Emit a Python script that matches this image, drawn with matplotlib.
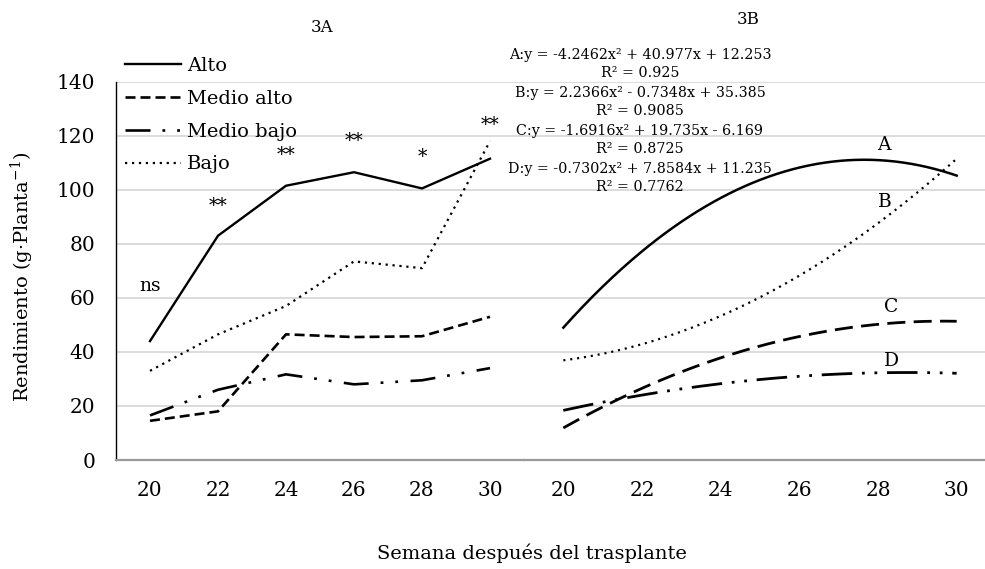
import numpy as np
import matplotlib
matplotlib.use("Agg")
import matplotlib.pyplot as plt

plt.rcParams['font.family'] = ['DejaVu Serif']
plt.rcParams['mathtext.fontset'] = 'dejavuserif'
plt.rcParams['lines.scale_dashes'] = False

# datos del panel 3A (rendimiento por nivel)
semanas = ['20', '22', '24', '26', '28', '30']
alto = [44, 83, 101.5, 106.5, 100.5, 111.5]
medio_alto = [14.5, 18, 46.5, 45.5, 45.8, 53]
medio_bajo = [16.5, 26, 31.7, 28, 29.5, 34]
bajo = [33, 46.5, 57, 73.5, 71, 118]
significancia = ['ns', '**', '**', '**', '*', '**']
y_signif = [64.5, 94, 113, 118, 112, 124]

# panel 3B: coeficientes de las tendencias (a, b, c) y R2
curvas = ['A', 'B', 'C', 'D']
coef_a = [-4.2462, 2.2366, -1.6916, -0.7302]
coef_b = [40.977, -0.7348, 19.735, 7.8584]
coef_c = [12.253, 35.385, -6.169, 11.235]
r2 = ['0.925', '0.9085', '0.8725', '0.7762']
ecuaciones = ['A:y = -4.2462x\u00b2 + 40.977x + 12.253',
              'B:y = 2.2366x\u00b2 - 0.7348x + 35.385',
              'C:y = -1.6916x\u00b2 + 19.735x - 6.169',
              'D:y = -0.7302x\u00b2 + 7.8584x + 11.235']

W, H = 985, 569


def fx(px):
    return px / W


def fy(py):
    return (H - py) / H


fig = plt.figure(figsize=(9.85, 5.69), dpi=100)
ax1 = fig.add_axes([fx(116), fy(460), (524 - 116) / W, (460 - 81.7) / H])
ax2 = fig.add_axes([fx(524), fy(460), (996 - 524) / W, (460 - 81.7) / H])

gris = '#d9d9d9'
for ax in (ax1, ax2):
    ax.set_xlim(-0.5, 5.5)
    ax.set_ylim(0, 140)
    ax.set_yticks(range(0, 141, 20))
    ax.set_xticks(range(6))
    ax.set_xticklabels(semanas)
    ax.yaxis.grid(True, color=gris, lw=1.3)
    ax.set_axisbelow(True)
    for s in ('top', 'right'):
        ax.spines[s].set_visible(False)
    ax.spines['bottom'].set_color('#9a9a9a')
    ax.spines['bottom'].set_linewidth(1.6)
    ax.tick_params(axis='x', length=0, pad=15, labelsize=14.5)
    ax.tick_params(axis='y', length=0, pad=15, labelsize=14.5)
    ax.patch.set_alpha(0)

ax2.spines['left'].set_visible(False)
ax2.set_yticklabels([])
ax1.spines['left'].set_color('black')
ax1.spines['left'].set_linewidth(1.0)

x = np.arange(6)
l1, = ax1.plot(x, alto, color='black', lw=1.7, label='Alto')
l2, = ax1.plot(x, medio_alto, color='black', lw=1.9, ls=(0, (7.2, 3.6)), label='Medio alto')
l3, = ax1.plot(x, medio_bajo, color='black', lw=1.9, ls=(0, (18, 8.6, 2, 8.6, 2, 9)), label='Medio bajo')
l4, = ax1.plot(x, bajo, color='black', lw=1.6, ls=(0, (1.6, 3.4)), label='Bajo')

for i, s in enumerate(significancia):
    ax1.text(i, y_signif[i], s, ha='center', va='center', fontsize=13.5)

ax1.legend(handles=[l1, l2, l3, l4], loc='upper left', frameon=False,
           bbox_to_anchor=(fx(125), fy(57)), bbox_transform=fig.transFigure,
           borderpad=0, borderaxespad=0, handlelength=2.9, handletextpad=0.3,
           labelspacing=0.76, fontsize=14)

# tendencias 3B
estilos = ['-', (0, (1.5, 3.5)), (0, (13, 6)), (0, (22, 7, 2, 7, 2, 7))]
anchos = [1.8, 1.6, 2.0, 2.0]
xs = np.linspace(1, 6, 200)
for k in range(4):
    ys = coef_a[k] * xs ** 2 + coef_b[k] * xs + coef_c[k]
    ax2.plot(xs - 1, ys, color='black', lw=anchos[k], ls=estilos[k])

pos_letra = [(4.07, 116.5), (4.09, 95.4), (4.17, 56.5), (4.17, 36.8)]
for k, c in enumerate(curvas):
    ax2.text(pos_letra[k][0], pos_letra[k][1], c, ha='center', va='center', fontsize=13.5)

for k in range(4):
    y0 = 55 + 38 * k
    fig.text(fx(640), fy(y0), ecuaciones[k], ha='center', va='center', fontsize=10.3)
    fig.text(fx(640), fy(y0 + 18), 'R\u00b2 = ' + r2[k], ha='center', va='center', fontsize=10.3)

fig.text(fx(322), fy(28), '3A', ha='center', va='center', fontsize=12)
fig.text(fx(748), fy(20), '3B', ha='center', va='center', fontsize=12)
fig.text(fx(532), fy(553), 'Semana después del trasplante', ha='center', va='center', fontsize=14)
fig.text(fx(22), fy(277), 'Rendimiento (g·Planta$^{-1}$)', ha='center', va='center',
         rotation=90, fontsize=14)

fig.savefig('out.png', dpi=100)
